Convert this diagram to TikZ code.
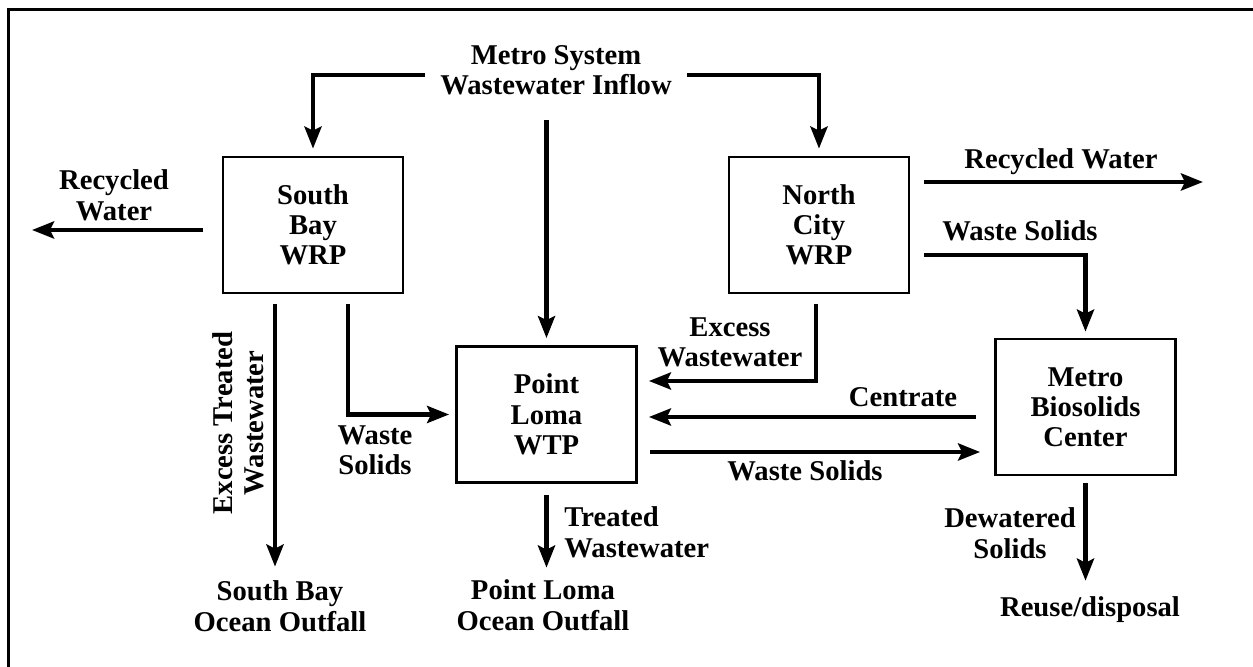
\documentclass[tikz,border=0pt]{standalone}
\usepackage{fontspec}
\setmainfont{Liberation Serif}
\usetikzlibrary{arrows.meta,positioning}

\begin{document}
\begin{tikzpicture}[every node/.style={font=\bfseries\fontsize{16.3}{17.2}\selectfont, align=center},
    unit/.style={draw, line width=0.055cm, minimum width=3.6cm, minimum height=2.72cm},
    lbl/.style={inner sep=0pt, text depth=0pt},
    flow/.style={line width=0.09cm, -{Stealth[length=0.44cm, width=0.34cm, inset=0.08cm]}}]
    \useasboundingbox (0,0) rectangle (25.06,13.34);

    % Frame
    \draw[line width=0.06cm] (0.17,-0.5) |- (25.6,13.15);

    % Inflow
    \node[lbl] (inflow) at (11.12,11.94) {Metro System\\Wastewater Inflow};

    % Plants
    \node[unit] (sb) at (6.26,8.84) {South\\Bay\\WRP};
    \node[unit] (nc) at (16.38,8.84) {North\\City\\WRP};
    \node[unit] (pl) at (10.93,5.05) {Point\\Loma\\WTP};
    \node[unit] (mbc) at (21.71,5.20) {Metro\\Biosolids\\Center};

    % Outlets
    \node[lbl] (sbo) at (5.60,1.22) {South Bay\\Ocean Outfall};
    \node[lbl] (plo) at (10.86,1.24) {Point Loma\\Ocean Outfall};
    \node[lbl] (reuse) at (21.80,1.20) {Reuse/disposal};
    \coordinate (rwLend) at (0.64,8.74);
    \coordinate (rwRend) at (24.06,9.70);

    % Flow labels
    \node[lbl] (rwL) at (2.28,9.44) {Recycled\\Water};
    \node[lbl] (rwR) at (21.22,10.16) {Recycled Water};
    \node[lbl] (wsR) at (20.40,8.72) {Waste Solids};
    \node[lbl] (ex) at (14.60,6.50) {Excess\\Wastewater};
    \node[lbl] (wsL) at (7.50,4.34) {Waste\\Solids};
    \node[lbl] (centrate) at (18.06,5.40) {Centrate};
    \node[lbl] (wsB) at (16.10,3.92) {Waste Solids};
    \node[lbl, rotate=90] (etw) at (4.76,4.88) {Excess Treated\\Wastewater};
    \node[lbl, anchor=west, align=left] (tw) at (11.28,2.70) {Treated\\Wastewater};
    \node[lbl] (dws) at (20.20,2.68) {Dewatered\\Solids};

    % Inflow arrows
    \draw[flow, shorten <=0.3cm, shorten >=0.14cm] ([yshift=-0.1cm]inflow.west) -| (sb.north);
    \draw[flow, shorten <=0.3cm, shorten >=0.14cm] ([yshift=-0.1cm]inflow.east) -| (nc.north);
    \draw[flow, shorten <=0.5cm, shorten >=0.14cm] (inflow.south -| pl.north) -- (pl.north);

    % South Bay
    \draw[flow, shorten <=0.38cm] (sb.west |- rwLend) -- (rwLend);
    \draw[flow, shorten <=0.2cm, shorten >=0.12cm] ([xshift=0.7cm]sb.south) |- (pl.west);
    \draw[flow, shorten <=0.2cm, shorten >=0.28cm] ([xshift=-0.76cm]sb.south) -- ([xshift=-0.76cm]sb.south |- sbo.north);

    % North City
    \draw[flow, shorten <=0.28cm] (nc.east |- rwRend) -- (rwRend);
    \draw[flow, shorten <=0.28cm, shorten >=0.12cm] ([yshift=-0.6cm]nc.east) -| (mbc.north);
    \draw[flow, shorten <=0.2cm, shorten >=0.22cm] ([xshift=-0.06cm]nc.south) |- ([yshift=0.67cm]pl.east);

    % Point Loma and biosolids
    \draw[flow, shorten <=0.36cm, shorten >=0.22cm] ([yshift=-0.2cm]mbc.west) -- ([yshift=-0.05cm]pl.east);
    \draw[flow, shorten <=0.24cm, shorten >=0.28cm] ([yshift=-0.75cm]pl.east) -- ([yshift=-0.9cm]mbc.west);
    \draw[flow, shorten <=0.22cm, shorten >=0.24cm] (pl.south) -- (pl.south |- plo.north);
    \draw[flow, shorten <=0.14cm, shorten >=0.32cm] (mbc.south) -- (mbc.south |- reuse.north);
\end{tikzpicture}
\end{document}
